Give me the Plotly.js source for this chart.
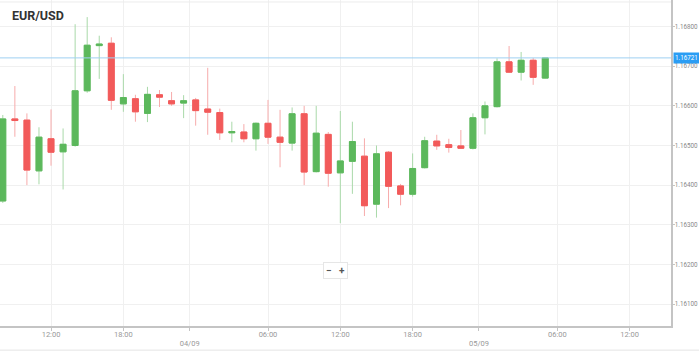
<!DOCTYPE html>
<html>
<head>
<meta charset="utf-8">
<script src="https://cdn.plot.ly/plotly-3.0.1.min.js"></script>
<style>html,body{margin:0;padding:0;background:#fff;}#chart{width:699px;height:351px;}</style>
</head>
<body>
<div id="chart"></div>
<script>
var times = [
 "2025-09-03 08:00","2025-09-03 09:00","2025-09-03 10:00","2025-09-03 11:00","2025-09-03 12:00","2025-09-03 13:00",
 "2025-09-03 14:00","2025-09-03 15:00","2025-09-03 16:00","2025-09-03 17:00","2025-09-03 18:00","2025-09-03 19:00",
 "2025-09-03 20:00","2025-09-03 21:00","2025-09-03 22:00","2025-09-03 23:00","2025-09-04 00:00","2025-09-04 01:00",
 "2025-09-04 02:00","2025-09-04 03:00","2025-09-04 04:00","2025-09-04 05:00","2025-09-04 06:00","2025-09-04 07:00",
 "2025-09-04 08:00","2025-09-04 09:00","2025-09-04 10:00","2025-09-04 11:00","2025-09-04 12:00","2025-09-04 13:00",
 "2025-09-04 14:00","2025-09-04 15:00","2025-09-04 16:00","2025-09-04 17:00","2025-09-04 18:00","2025-09-04 19:00",
 "2025-09-04 20:00","2025-09-04 21:00","2025-09-04 22:00","2025-09-04 23:00","2025-09-05 00:00","2025-09-05 01:00",
 "2025-09-05 02:00","2025-09-05 03:00","2025-09-05 04:00","2025-09-05 05:00"
];
var openP = [1.16360,1.16567,1.16564,1.16436,1.16517,1.16484,1.16500,1.16638,1.16752,1.16758,1.16605,1.16618,
 1.16581,1.16628,1.16613,1.16607,1.16615,1.16592,1.16583,1.16532,1.16534,1.16517,1.16556,1.16521,
 1.16506,1.16580,1.16434,1.16528,1.16431,1.16460,1.16473,1.16352,1.16483,1.16398,1.16377,1.16444,
 1.16511,1.16502,1.16499,1.16493,1.16570,1.16598,1.16711,1.16685,1.16715,1.16670];
var highP = [1.16577,1.16650,1.16581,1.16546,1.16591,1.16543,1.16806,1.16824,1.16777,1.16773,1.16680,1.16628,
 1.16648,1.16640,1.16635,1.16627,1.16620,1.16696,1.16593,1.16560,1.16554,1.16558,1.16615,1.16590,
 1.16596,1.16600,1.16600,1.16534,1.16587,1.16560,1.16518,1.16500,1.16486,1.16403,1.16480,1.16522,
 1.16527,1.16517,1.16539,1.16581,1.16611,1.16720,1.16751,1.16736,1.16721,1.16721];
var lowP = [1.16355,1.16522,1.16400,1.16402,1.16449,1.16389,1.16497,1.16633,1.16668,1.16590,1.16585,1.16560,
 1.16559,1.16597,1.16600,1.16569,1.16550,1.16527,1.16514,1.16508,1.16508,1.16487,1.16504,1.16445,
 1.16487,1.16400,1.16432,1.16396,1.16304,1.16378,1.16322,1.16318,1.16342,1.16349,1.16371,1.16442,
 1.16489,1.16482,1.16492,1.16490,1.16528,1.16596,1.16684,1.16664,1.16653,1.16669];
var closeP = [1.16567,1.16563,1.16438,1.16521,1.16483,1.16503,1.16638,1.16753,1.16756,1.16614,1.16621,1.16585,
 1.16629,1.16622,1.16605,1.16613,1.16588,1.16584,1.16532,1.16535,1.16517,1.16556,1.16521,1.16508,
 1.16580,1.16433,1.16531,1.16430,1.16461,1.16510,1.16348,1.16479,1.16397,1.16377,1.16442,1.16512,
 1.16499,1.16495,1.16493,1.16570,1.16600,1.16711,1.16685,1.16715,1.16672,1.16721];
var currentPrice = 1.16721;
var tickVals = ["2025-09-03 12:00","2025-09-03 18:00","2025-09-03 23:30","2025-09-04 06:00","2025-09-04 12:00",
 "2025-09-04 18:00","2025-09-04 23:30","2025-09-05 06:00","2025-09-05 12:00"];
var tickText = ["12:00","18:00"," <br>04/09","06:00","12:00","18:00"," <br>05/09","06:00","12:00"];

var bodyHigh = openP.map(function(o,i){return Math.max(o, closeP[i]);});
var bodyLow = openP.map(function(o,i){return Math.min(o, closeP[i]);});

var wicks = {
  type:'candlestick', x:times, open:openP, high:highP, low:lowP, close:closeP,
  increasing:{line:{color:'#a9d9a9', width:1}, fillcolor:'#a9d9a9'},
  decreasing:{line:{color:'#f7abab', width:1}, fillcolor:'#f7abab'},
  hoverinfo:'skip', showlegend:false
};
var bodies = {
  type:'candlestick', x:times, open:openP, high:bodyHigh, low:bodyLow, close:closeP,
  increasing:{line:{color:'#5cb85c', width:1}, fillcolor:'#5cb85c'},
  decreasing:{line:{color:'#f25a5a', width:1}, fillcolor:'#f25a5a'},
  showlegend:false
};

var layout = {
  width:699, height:351,
  margin:{l:0, r:28, t:0, b:25},
  paper_bgcolor:'#fff', plot_bgcolor:'#fff',
  showlegend:false,
  title:{text:'<b>EUR/USD</b>', x:0.017, xanchor:'left', y:0.955, yanchor:'middle',
         font:{family:'Roboto, Arial, sans-serif', size:12.5, color:'#333'}},
  xaxis:{
    type:'date', range:['2025-09-03 07:46','2025-09-05 15:26'],
    rangeslider:{visible:false},
    tickmode:'array', tickvals:tickVals, ticktext:tickText,
    showgrid:true, gridcolor:'#f0f0f0', gridwidth:1,
    showline:true, linecolor:'#c4c4c4', linewidth:1.5,
    ticks:'outside', ticklen:3, tickcolor:'#c4c4c4',
    ticklabelstandoff:-3,
    tickfont:{family:'Roboto, Arial, sans-serif', size:7.5, color:'#999'},
    zeroline:false, fixedrange:true
  },
  yaxis:{
    side:'right', range:[1.160445, 1.168671],
    tick0:1.161, dtick:0.001, tickformat:'.5f',
    showgrid:true, gridcolor:'#f0f0f0', gridwidth:1,
    showline:true, linecolor:'#c4c4c4', linewidth:1.5,
    ticks:'outside', ticklen:2, tickcolor:'#c4c4c4',
    ticklabelstandoff:-1,
    tickfont:{family:'Roboto, Arial, sans-serif', size:6.3, color:'#888'},
    zeroline:false, fixedrange:true
  },
  shapes:[
    {type:'line', xref:'paper', yref:'y', x0:0, x1:1, y0:currentPrice, y1:currentPrice,
     line:{color:'#9fd0f2', width:1}},
    {type:'line', xref:'paper', yref:'paper', x0:0, x1:1, y0:0.994, y1:0.994,
     line:{color:'#ececec', width:1}},
    {type:'line', xref:'paper', yref:'paper', x0:0, x1:1.042, y0:-0.074, y1:-0.074,
     line:{color:'#e4e4e4', width:1}}
  ],
  annotations:[
    {xref:'paper', yref:'y', x:1, y:currentPrice, xanchor:'left', yanchor:'middle', xshift:2,
     text:'1.16721', showarrow:false, bgcolor:'#2a9df4', borderpad:1,
     font:{family:'Roboto, Arial, sans-serif', size:6.3, color:'#fff'}},
    {xref:'paper', yref:'paper', x:335/671, y:1-270/326, xanchor:'center', yanchor:'middle',
     text:'<b>−</b>   <b>+</b>', showarrow:false, bgcolor:'#fff', bordercolor:'#e6e6e6', borderwidth:1, borderpad:2,
     font:{family:'Roboto, Arial, sans-serif', size:10, color:'#555'}}
  ]
};

Plotly.newPlot('chart', [wicks, bodies], layout, {displayModeBar:false, staticPlot:true});
</script>
</body>
</html>
